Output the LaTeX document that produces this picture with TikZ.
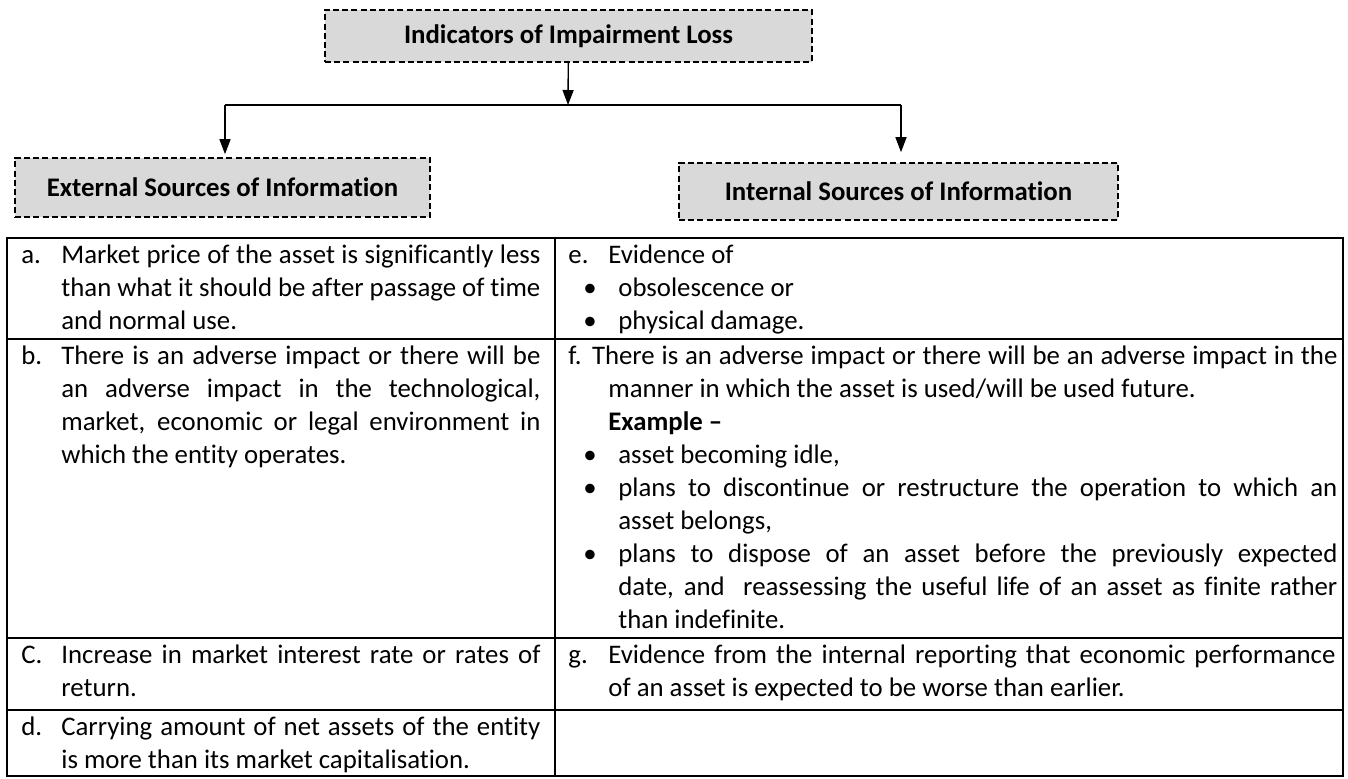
\documentclass[tikz,border=0pt]{standalone}
\usepackage{fontspec}
\setmainfont{Carlito}[Ligatures=NoCommon]
\usetikzlibrary{arrows.meta,positioning}

\definecolor{boxgray}{HTML}{D9D9D9}
\newcommand{\tabfont}{\fontsize{13.4}{16.5}\selectfont\parindent=0pt\hyphenpenalty=10000\exhyphenpenalty=10000}
\newcommand{\entry}[2][20pt]{\leftskip=20pt\noindent\strut\hskip-20pt\makebox[#1][l]{#2}}
\newcommand{\bul}{\par\leftskip=25pt\noindent\llap{\makebox[17.5pt][l]{\textbullet}}}

\begin{document}
\begin{tikzpicture}[
                x=0.5pt, y={(0pt,-0.5pt)},
                hbox/.style={draw,dash pattern=on 3pt off 1.6pt,line width=0.8pt,fill=boxgray,
                             inner sep=0pt,font=\tabfont\bfseries},
                arr/.style={-{Triangle[length=7.5pt,width=5.5pt]},line width=0.7pt},
                cell/.style={anchor=north west,inner sep=0pt,text width=#1,align=justify,font=\tabfont}
            ]
                \useasboundingbox (0,0) rectangle (1348,778);
                \node (loss) [hbox,minimum width=243.5pt,minimum height=26pt] at (568.5,36) {Indicators of Impairment Loss};
                \node (ext)  [hbox,minimum width=207.5pt,minimum height=29.5pt] at (222.5,187.5) {External Sources of Information};
                \node (int)  [hbox,minimum width=219.5pt,minimum height=28.5pt] at (898.5,191.5) {Internal Sources of Information};
                \coordinate (jm) at (568,105);
                \coordinate (jl) at (225,105);
                \coordinate (jr) at (901,105);
                \draw[arr] (loss) -- (jm);
                \draw[line width=1.1pt] (jl) -- (jr);
                \draw[arr,shorten >=1.5pt] (jl) -- (jl |- ext.north);
                \draw[arr,shorten >=5pt] (jr) -- (jr |- int.north);

                \draw[line width=1pt] (7,238) rectangle (1343,776);
                \draw[line width=1pt] (555,238) -- (555,776);
                \foreach \y in {339,638,710}
                    \draw[line width=1pt] (7,\y) -- (1343,\y);

                \node (ca) [cell=259.5pt] at (21,240) {\entry{a.}Market price of the asset is significantly less\break than what it should be after passage of time\break and normal use.\par};
                \node (cb) [cell=259.5pt] at (21,341) {\entry{b.}There is an adverse impact or there will be\break an adverse impact in the technological,\break market, economic or legal environment in\break which the entity operates.\par};
                \node (cc) [cell=259.5pt] at (21,640) {\entry{C.}Increase in market interest rate or rates of\break return.\par};
                \node (cd) [cell=259.5pt] at (21,712) {\entry{d.}Carrying amount of net assets of the entity\break is more than its market capitalisation.\par};
                \node (ce) [cell=383.5pt] at (568,240) {\entry{e.}Evidence of\bul obsolescence or\bul physical damage.\par};
                \node (cf) [cell=384.5pt] at (568,341) {{\parfillskip=0pt\noindent\strut f. There is an adverse impact or there will be an adverse impact in the\par}
                    \leftskip=20pt\noindent manner in which the asset is used/will be used future.\par
                    \noindent\textbf{Example –}%
                    \bul asset becoming idle,\bul plans to discontinue or restructure the operation to which an\break asset belongs,\bul plans to dispose of an asset before the previously expected\break date, and~ reassessing the useful life of an asset as finite rather\break than indefinite.\par};
                \node (cg) [cell=383.5pt] at (568,640) {\entry{g.}Evidence from the internal reporting that economic performance\break of an asset is expected to be worse than earlier.\par};
            \end{tikzpicture}
\end{document}
